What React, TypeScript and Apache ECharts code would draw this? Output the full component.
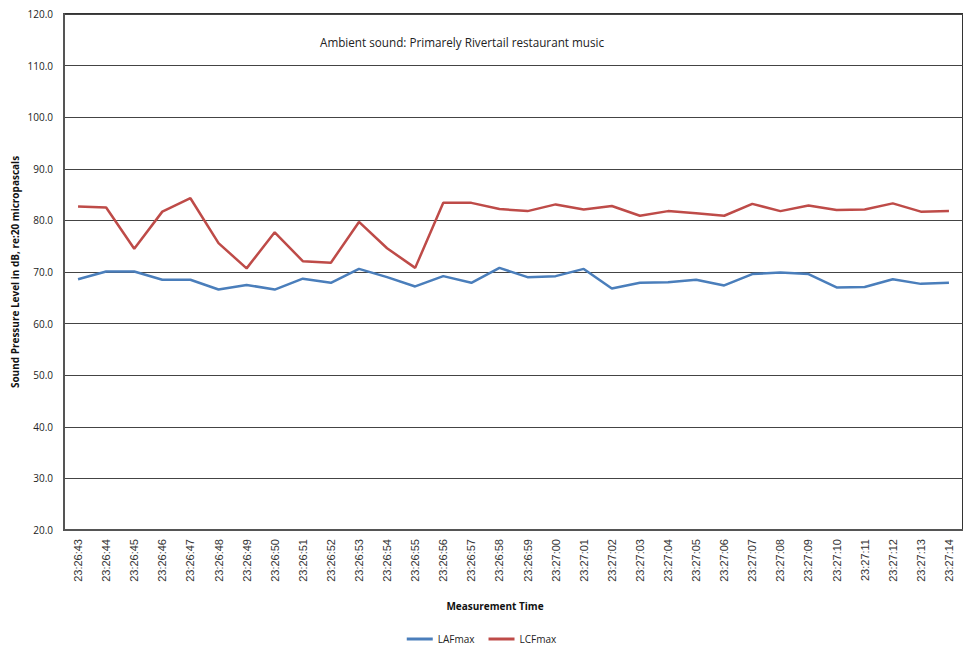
import React, { useEffect, useRef } from "react";
import * as echarts from "echarts";

const categories = [
  "23:26:43", "23:26:44", "23:26:45", "23:26:46", "23:26:47", "23:26:48", "23:26:49", "23:26:50",
  "23:26:51", "23:26:52", "23:26:53", "23:26:54", "23:26:55", "23:26:56", "23:26:57", "23:26:58",
  "23:26:59", "23:27:00", "23:27:01", "23:27:02", "23:27:03", "23:27:04", "23:27:05", "23:27:06",
  "23:27:07", "23:27:08", "23:27:09", "23:27:10", "23:27:11", "23:27:12", "23:27:13", "23:27:14",
];

const lafmax = [
  68.6, 70.1, 70.1, 68.5, 68.5, 66.6, 67.5, 66.6,
  68.7, 67.9, 70.6, 69.0, 67.2, 69.2, 67.9, 70.8,
  69.0, 69.2, 70.6, 66.8, 67.9, 68.0, 68.5, 67.4,
  69.6, 69.9, 69.6, 67.0, 67.1, 68.6, 67.7, 67.9,
];

const lcfmax = [
  82.7, 82.5, 74.5, 81.7, 84.3, 75.6, 70.7, 77.7,
  72.1, 71.8, 79.7, 74.6, 70.8, 83.4, 83.4, 82.2,
  81.8, 83.1, 82.1, 82.8, 80.9, 81.8, 81.4, 80.9,
  83.2, 81.8, 82.9, 82.0, 82.1, 83.3, 81.7, 81.8,
];

const yTicks = { min: 20, max: 120, interval: 10 };

const FONT = "'Open Sans', 'Liberation Sans', sans-serif";

export default function App() {
  const ref = useRef<HTMLDivElement>(null);
  useEffect(() => {
    if (!ref.current) return;
    const chart = echarts.init(ref.current, undefined, { renderer: "svg" });
    chart.setOption({
      animation: false,
      backgroundColor: "#ffffff",
      grid: {
        left: 64,
        top: 14,
        width: 908,
        height: 516,
        show: true,
        borderColor: "#333",
        borderWidth: 2,
      },
      xAxis: {
        type: "category",
        data: categories,
        boundaryGap: true,
        axisLine: { show: true, lineStyle: { color: "#555", width: 2 } },
        axisTick: { show: false },
        axisLabel: {
          rotate: 90,
          interval: 0,
          color: "#333",
          fontSize: 11,
          fontFamily: "'Liberation Sans', Arial, sans-serif",
          margin: 9,
        },
        splitLine: { show: false },
      },
      yAxis: {
        type: "value",
        min: yTicks.min,
        max: yTicks.max,
        interval: yTicks.interval,
        axisLine: { show: true, lineStyle: { color: "#555", width: 2 } },
        axisTick: { show: false },
        axisLabel: {
          color: "#222",
          fontSize: 10,
          fontFamily: FONT,
          margin: 11,
          formatter: (v: number) => v.toFixed(1),
        },
        splitLine: { show: true, lineStyle: { color: "#444", width: 1 } },
      },
      legend: {
        data: ["LAFmax", "LCFmax"],
        top: 633,
        left: "center",
        padding: 0,
        icon: "rect",
        itemWidth: 26,
        itemHeight: 3,
        itemGap: 14,
        textStyle: { fontSize: 10, lineHeight: 12, color: "#222", fontFamily: FONT },
      },
      graphic: [
        {
          type: "text",
          left: 320,
          top: 36,
          style: {
            text: "Ambient sound: Primarely Rivertail restaurant music",
            fontSize: 11.7,
            fontFamily: FONT,
            fill: "#222",
          },
        },
        {
          type: "text",
          x: 495,
          y: 606,
          style: {
            text: "Measurement Time",
            fontSize: 10,
            fontWeight: "bold",
            fontFamily: FONT,
            fill: "#111",
            align: "center",
            verticalAlign: "middle",
          },
        },
        {
          type: "text",
          x: 15,
          y: 272,
          rotation: Math.PI / 2,
          style: {
            text: "Sound Pressure Level in dB, re:20 micropascals",
            fontSize: 10,
            fontWeight: "bold",
            fontFamily: FONT,
            fill: "#111",
            align: "center",
            verticalAlign: "middle",
          },
        },
      ],
      series: [
        {
          name: "LAFmax",
          type: "line",
          data: lafmax,
          showSymbol: false,
          symbol: "none",
          lineStyle: { color: "#4A7EBB", width: 2.5 },
          itemStyle: { color: "#4A7EBB" },
        },
        {
          name: "LCFmax",
          type: "line",
          data: lcfmax,
          showSymbol: false,
          symbol: "none",
          lineStyle: { color: "#BE4B48", width: 2.5 },
          itemStyle: { color: "#BE4B48" },
        },
      ],
    });
    return () => chart.dispose();
  }, []);
  return <div ref={ref} style={{ width: 963, height: 646, position: "absolute", left: 0, top: 0 }} />;
}
